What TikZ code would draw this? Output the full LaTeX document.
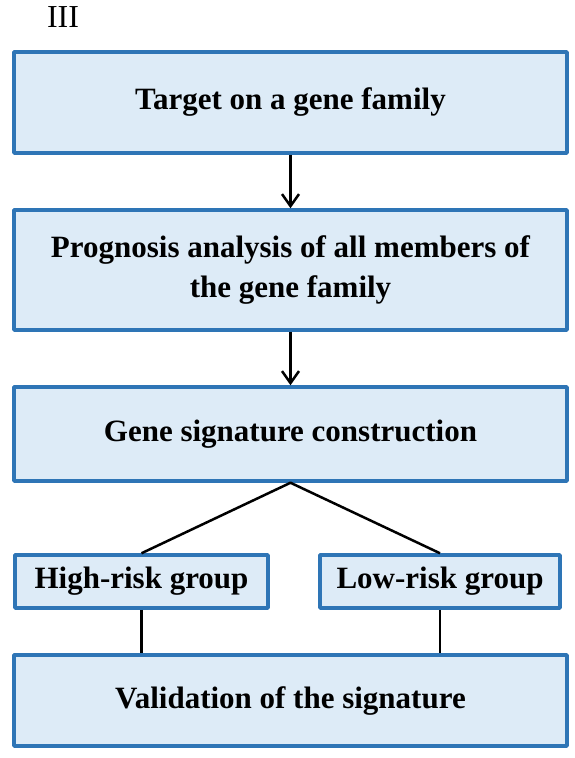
\documentclass[tikz,border=0pt]{standalone}
\usepackage{fontspec}
\setmainfont{Liberation Serif}
\usetikzlibrary{arrows.meta}
\definecolor{boxfill}{RGB}{221,235,247}
\definecolor{boxline}{RGB}{46,117,182}
\begin{document}
\begin{tikzpicture}[x=1pt,y=-1pt,>={Straight Barb[length=12pt,width=17pt]},line join=round,
	stage/.style={draw=boxline,fill=boxfill,line width=3.5pt,font=\fontsize{31}{40}\selectfont\bfseries,align=center,inner sep=0pt},
	link/.style={line width=2.5pt}]
	\useasboundingbox (0,0) rectangle (575,758);
	\node (lbl) at (63,17) {\fontsize{32}{36}\selectfont III};
	\node[stage,minimum width=553pt,minimum height=101pt] (fam) at (290.5,102.5) {Target on a gene family};
	\node[stage,minimum width=553pt,minimum height=120pt] (prog) at (290.5,270) {Prognosis analysis of all members of\\the gene family};
	\node[stage,minimum width=553pt,minimum height=94pt] (sig) at (290.5,434) {Gene signature construction};
	\node[stage,minimum width=253pt,minimum height=53pt] (high) at (141.5,581.5) {High-risk group};
	\node[stage,minimum width=240pt,minimum height=53pt] (low) at (440,581.5) {Low-risk group};
	\node[stage,minimum width=553pt,minimum height=91pt] (val) at (290.5,700.5) {Validation of the signature};
	\draw[link,->] (fam) -- (prog);
	\draw[link,->] (prog) -- (sig);
	\draw[link] (high.north) -- (sig.south) -- (low.north);
	\draw[link] (high) -- (high |- val.north);
	\draw[link] (low) -- (low |- val.north);
\end{tikzpicture}
\end{document}
